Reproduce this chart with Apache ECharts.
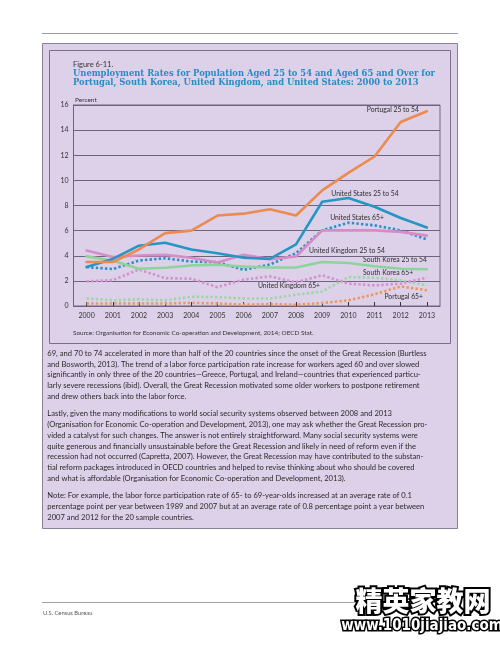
<!DOCTYPE html>
<html>
<head>
<meta charset="utf-8">
<script src="https://cdn.jsdelivr.net/npm/echarts@6/dist/echarts.min.js"></script>
<style>html,body{margin:0;padding:0;background:#fff;}#c{width:500px;height:647px;}</style>
</head>
<body>
<div id="c"></div>
<script>
var years = ['2000','2001','2002','2003','2004','2005','2006','2007','2008','2009','2010','2011','2012','2013'];
var yTicks = [0, 2, 4, 6, 8, 10, 12, 14, 16];
var portugal2554 = [3.5, 3.5, 4.5, 5.8, 6.0, 7.2, 7.35, 7.7, 7.2, 9.2, 10.6, 11.9, 14.65, 15.5];
var us2554 = [3.1, 3.75, 4.8, 5.03, 4.5, 4.2, 3.84, 3.75, 4.9, 8.3, 8.6, 7.9, 7.0, 6.25];
var us65 = [3.1, 2.94, 3.62, 3.8, 3.54, 3.49, 2.88, 3.3, 4.2, 6.02, 6.63, 6.42, 6.02, 5.3];
var uk2554 = [4.42, 3.9, 4.02, 4.07, 3.84, 3.46, 4.07, 3.73, 3.94, 6.02, 6.02, 6.02, 5.9, 5.6];
var sk2554 = [3.95, 3.6, 2.96, 3.04, 3.23, 3.28, 3.15, 3.07, 3.07, 3.5, 3.42, 3.16, 2.97, 2.92];
var sk65 = [0.61, 0.45, 0.53, 0.45, 0.74, 0.71, 0.6, 0.6, 0.9, 1.15, 2.3, 2.25, 2.04, 1.64];
var uk65 = [1.96, 2.06, 2.9, 2.22, 2.17, 1.5, 2.1, 2.36, 1.9, 2.44, 1.78, 1.64, 1.78, 2.25];
var portugal65 = [0.2, 0.2, 0.2, 0.2, 0.25, 0.2, 0.1, 0.15, 0.1, 0.24, 0.45, 0.93, 1.56, 1.25];

var seriesNames = ['Portugal 25 to 54','United States 25 to 54','United States 65+','United Kingdom 25 to 54','South Korea 25 to 54','South Korea 65+','United Kingdom 65+','Portugal 65+'];

var figureLabel = 'Figure 6-11.';
var titleLines = ['Unemployment Rates for Population Aged 25 to 54 and Aged 65 and Over for',
                  'Portugal, South Korea, United Kingdom, and United States: 2000 to 2013'];
var unitLabel = 'Percent';
var sourceText = 'Source: Organisation for Economic Co-operation and Development, 2014; OECD Stat.';
var paragraphs = [
 ['69, and 70 to 74 accelerated in more than half of the 20 countries since the onset of the Great Recession (Burtless',
  'and Bosworth, 2013). The trend of a labor force participation rate increase for workers aged 60 and over slowed',
  'significantly in only three of the 20 countries\u2014Greece, Portugal, and Ireland\u2014countries that experienced particu-',
  'larly severe recessions (ibid). Overall, the Great Recession motivated some older workers to postpone retirement',
  'and drew others back into the labor force.'],
 ['Lastly, given the many modifications to world social security systems observed between 2008 and 2013',
  '(Organisation for Economic Co-operation and Development, 2013), one may ask whether the Great Recession pro-',
  'vided a catalyst for such changes. The answer is not entirely straightforward. Many social security systems were',
  'quite generous and financially unsustainable before the Great Recession and likely in need of reform even if the',
  'recession had not occurred (Capretta, 2007). However, the Great Recession may have contributed to the substan-',
  'tial reform packages introduced in OECD countries and helped to revise thinking about who should be covered',
  'and what is affordable (Organisation for Economic Co-operation and Development, 2013).'],
 ['Note: For example, the labor force participation rate of 65- to 69-year-olds increased at an average rate of 0.1',
  'percentage point per year between 1989 and 2007 but at an average rate of 0.8 percentage point a year between',
  '2007 and 2012 for the 20 sample countries.']
];
var footerText = 'U.S. Census Bureau';
var watermark1 = '精英家教网';
var watermark2 = 'www.1010jiajiao.com';

var C = {orange:'#ec8a4f', blue:'#2596c4', pink:'#d68cc6', green:'#8cd39c', greenDot:'#9dd6a6', pinkDot:'#d690d0', orangeDot:'#f0965a', blueDot:'#2a8fc8'};

var chart = echarts.init(document.getElementById('c'), null, {renderer:'canvas'});

var graphics = [];
graphics.push({type:'line', shape:{x1:42, y1:33.5, x2:458, y2:33.5}, style:{stroke:'#9a9a9a', lineWidth:1}, z:-10});
graphics.push({type:'rect', shape:{x:42.5, y:43.5, width:415, height:485}, style:{fill:'#ddd1e9', stroke:'#8a7f98', lineWidth:1}, z:-10});
graphics.push({type:'rect', shape:{x:49.5, y:50.5, width:401, height:293}, style:{fill:'none', stroke:'#7a6e8a', lineWidth:1}, z:-9});
graphics.push({type:'text', x:73, y:64.5, style:{text:figureLabel, font:'7.5px Lato', fill:'#333', textVerticalAlign:'middle'}});
titleLines.forEach(function(t,i){
  graphics.push({type:'text', x:73, y:73.5 + i*9.3, style:{text:t, font:'bold 8.4px "DejaVu Serif"', fill:'#2b8ac3', textVerticalAlign:'middle'}});
});
graphics.push({type:'text', x:75, y:100, style:{text:unitLabel, font:'6.5px Lato', fill:'#333', textVerticalAlign:'middle'}});
graphics.push({type:'text', x:73, y:332.5, style:{text:sourceText, font:'6.4px Lato', fill:'#333', textVerticalAlign:'middle'}});

var seriesLabelPos = [[419,110,'right'],[365,194,'center'],[357,218,'center'],[347,251,'center'],[427,259.5,'right'],[388,273,'center'],[289,286,'center'],[423,296.5,'right']];
seriesNames.forEach(function(n,i){
  var p = seriesLabelPos[i];
  graphics.push({type:'text', x:p[0], y:p[1], style:{text:n, font:'6.8px Lato', fill:'#2e2e2e', textAlign:p[2], textVerticalAlign:'middle'}});
});

var paraStart = [353.5, 414, 495.7];
var lh = 10.75;
paragraphs.forEach(function(par,pi){
  par.forEach(function(line,li){
    graphics.push({type:'text', x:47.3, y:paraStart[pi] + li*lh, style:{text:line, font:'7.6px Lato', fill:'#2a2a2a', textVerticalAlign:'middle'}});
  });
});
graphics.push({type:'line', shape:{x1:42, y1:602.5, x2:458, y2:602.5}, style:{stroke:'#8a8a8a', lineWidth:0.8}});
graphics.push({type:'text', x:43, y:613, style:{text:footerText, font:'5.8px Lato', fill:'#555', textVerticalAlign:'middle'}});
graphics.push({type:'text', x:423, y:601, style:{text:watermark1, font:'900 27px "Noto Sans CJK SC"', fill:'#fff', stroke:'#000', lineWidth:4, textAlign:'center', textVerticalAlign:'middle'}, z:20});
graphics.push({type:'text', x:422, y:626, style:{text:watermark2, font:'bold 15px "DejaVu Sans Condensed"', fill:'#fff', stroke:'#000', lineWidth:3, textAlign:'center', textVerticalAlign:'middle'}, z:20});

function solid(name, data, color){
  return {name:name, type:'line', data:data, symbol:'none', smooth:false, z:4,
          lineStyle:{color:color, width:2.6, cap:'round', join:'round'}};
}
function dotted(name, data, color){
  return {name:name, type:'line', data:data, symbol:'none', smooth:false, z:3,
          lineStyle:{color:color, width:2.6, type:[2.4,2.2]}};
}

var option = {
  backgroundColor:'#ffffff',
  animation:false,
  graphic:{elements:graphics},
  grid:{left:73.5, right:60, top:105, bottom:341, show:true, borderColor:'#6e6480', borderWidth:1, backgroundColor:'transparent'},
  xAxis:{type:'category', data:years, boundaryGap:true,
    axisLine:{lineStyle:{color:'#6e6480', width:1}},
    axisTick:{show:true, inside:true, alignWithLabel:true, length:4, lineStyle:{color:'#333', width:1}},
    axisLabel:{color:'#333', fontSize:7, fontFamily:'Lato', margin:6}},
  yAxis:{type:'value', min:0, max:16, interval:2,
    axisLine:{show:true, lineStyle:{color:'#6e6480', width:1}},
    axisTick:{show:false},
    splitLine:{lineStyle:{color:'#6e6480', width:1}},
    axisLabel:{color:'#333', fontSize:7, fontFamily:'Lato', margin:5,
      formatter:function(v){ return yTicks.indexOf(v) >= 0 ? String(v) : ''; }}},
  series:[
    dotted(seriesNames[7], portugal65, C.orangeDot),
    dotted(seriesNames[5], sk65, C.greenDot),
    dotted(seriesNames[6], uk65, C.pinkDot),
    solid(seriesNames[4], sk2554, C.green),
    solid(seriesNames[3], uk2554, C.pink),
    dotted(seriesNames[2], us65, C.blueDot),
    solid(seriesNames[1], us2554, C.blue),
    solid(seriesNames[0], portugal2554, C.orange)
  ]
};
chart.setOption(option);
</script>
</body>
</html>
